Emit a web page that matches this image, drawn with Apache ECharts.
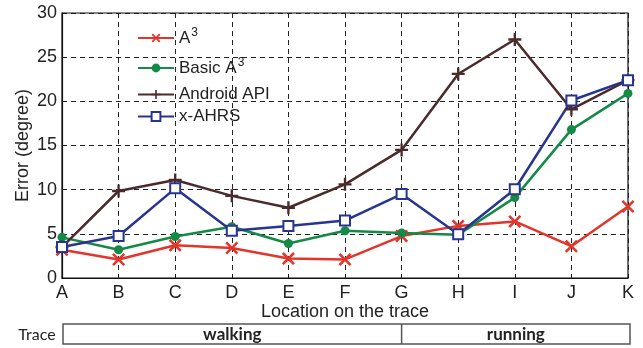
<!DOCTYPE html>
<html>
<head>
<meta charset="utf-8">
<script src="https://cdn.jsdelivr.net/npm/echarts@6/dist/echarts.min.js"></script>
<style>
  html, body { margin: 0; padding: 0; background: #fff; }
  #chart { width: 643px; height: 348px; }
</style>
</head>
<body>
<div id="chart"></div>
<script>
// Locations along the trace
const locations = ['A', 'B', 'C', 'D', 'E', 'F', 'G', 'H', 'I', 'J', 'K'];

// Orientation error (degree) per method
const errA3 = [3.2, 2.1, 3.7, 3.4, 2.2, 2.1, 4.75, 5.9, 6.4, 3.6, 8.1];
const errBasicA3 = [4.6, 3.2, 4.7, 5.8, 3.9, 5.35, 5.1, 4.9, 9.1, 16.8, 20.9];
const errAndroid = [3.5, 9.85, 11.1, 9.3, 7.95, 10.6, 14.5, 23.1, 27.0, 19.1, 22.4];
const errAHRS = [3.5, 4.75, 10.15, 5.35, 5.9, 6.5, 9.5, 4.95, 10.05, 20.1, 22.4];

// Y axis ticks
const yTicks = [0, 5, 10, 15, 20, 25, 30];

// Trace segments: label, first location, last location
const traceSegments = [
  { label: 'walking', from: 'A', to: 'G' },
  { label: 'running', from: 'G', to: 'K' }
];

const FONT = '"Liberation Sans", Arial, sans-serif';
const BAND_FONT = 'Lato, "Open Sans", sans-serif';
const CROSS = 'path://M0,1.4 L1.4,0 L5,3.6 L8.6,0 L10,1.4 L6.4,5 L10,8.6 L8.6,10 L5,6.4 L1.4,10 L0,8.6 L3.6,5 Z';
const PLUS = 'path://M4.1,0 H5.9 V4.1 H10 V5.9 H5.9 V10 H4.1 V5.9 H0 V4.1 H4.1 Z';

const seriesDefs = [
  { name: 'A3', data: errA3, color: '#e2352b', symbol: CROSS, size: 13 },
  { name: 'Basic A3', data: errBasicA3, color: '#138a45', symbol: 'circle', size: 9 },
  { name: 'Android API', data: errAndroid, color: '#4a2a2b', symbol: PLUS, size: 13 },
  { name: 'x-AHRS', data: errAHRS, color: '#283590', symbol: 'emptyRect', size: 10 }
];

// vertical offset of each legend row
const legendTops = [27, 57, 86, 108];

const rich = {
  t: { fontSize: 17, fontFamily: FONT, color: '#222' },
  s: { fontSize: 12, fontFamily: FONT, color: '#222', padding: [0, 0, 10, 1] }
};

function legendLabel(name) {
  const m = name.match(/^(.*)A3$/);
  if (m) return '{t|' + m[1] + 'A}{s|3}';
  return '{t|' + name + '}';
}

const chart = echarts.init(document.getElementById('chart'), null, { renderer: 'canvas' });

const option = {
  animation: false,
  backgroundColor: '#fff',
  grid: {
    left: 62, right: 15, top: 13, bottom: 70,
    show: true, borderColor: '#111', borderWidth: 1.2
  },
  legend: seriesDefs.map((s, i) => ({
    data: [s.name],
    left: 137,
    top: legendTops[i],
    padding: 0,
    itemWidth: 36,
    itemHeight: 11,
    formatter: legendLabel,
    textStyle: { rich: rich },
    selectedMode: false
  })),
  xAxis: {
    type: 'category',
    data: locations,
    boundaryGap: false,
    name: 'Location on the trace',
    nameLocation: 'middle',
    nameGap: 25,
    nameMoveOverlap: false,
    nameTextStyle: { fontSize: 18, fontFamily: FONT, color: '#222' },
    axisLine: { lineStyle: { color: '#111', width: 1.2 } },
    axisTick: { show: true, inside: true, length: 4, lineStyle: { color: '#111' } },
    axisLabel: { fontSize: 18, fontFamily: FONT, color: '#222', margin: 6 },
    splitLine: { show: true, lineStyle: { color: '#222', type: [5, 4], width: 1 } }
  },
  yAxis: {
    type: 'value',
    min: yTicks[0],
    max: yTicks[yTicks.length - 1],
    interval: yTicks[1] - yTicks[0],
    name: 'Error (degree)',
    nameLocation: 'middle',
    nameGap: 30,
    nameMoveOverlap: false,
    nameTextStyle: { fontSize: 18, fontFamily: FONT, color: '#222' },
    axisLine: { show: true, lineStyle: { color: '#111', width: 1.2 } },
    axisTick: { show: true, inside: true, length: 4, lineStyle: { color: '#111' } },
    axisLabel: { fontSize: 18, fontFamily: FONT, color: '#222', margin: 5 },
    splitLine: { show: true, lineStyle: { color: '#222', type: [5, 4], width: 1 } }
  },
  series: seriesDefs.map(s => ({
    name: s.name,
    type: 'line',
    data: s.data,
    symbol: s.symbol,
    symbolSize: s.size,
    showAllSymbol: true,
    lineStyle: { color: s.color, width: 2.5 },
    itemStyle: { color: s.color, borderColor: s.color, borderWidth: s.symbol === 'emptyRect' ? 2.2 : 0 },
    z: 3
  }))
};

chart.setOption(option);

// Trace band beneath the x axis, aligned to the category positions
function xOf(cat) {
  return chart.convertToPixel({ xAxisIndex: 0 }, cat);
}
const bandTop = 324, bandH = 20;
const x0 = xOf(locations[0]) + 1;
const x1 = xOf(locations[locations.length - 1]) + 2;
const graphics = [
  {
    type: 'text', x: 37, y: bandTop + bandH / 2 + 1,
    style: { text: 'Trace', fontSize: 16, fontFamily: BAND_FONT, fill: '#222', align: 'center', verticalAlign: 'middle' }
  },
  {
    type: 'rect', shape: { x: x0, y: bandTop, width: x1 - x0, height: bandH },
    style: { fill: 'none', stroke: '#555', lineWidth: 1.5 }
  }
];
traceSegments.forEach((seg, i) => {
  const a = i === 0 ? x0 : xOf(seg.from);
  const b = i === traceSegments.length - 1 ? x1 : xOf(seg.to);
  if (i > 0) {
    graphics.push({
      type: 'line', shape: { x1: a, y1: bandTop, x2: a, y2: bandTop + bandH },
      style: { stroke: '#555', lineWidth: 1.5 }
    });
  }
  graphics.push({
    type: 'text', x: (a + b) / 2, y: bandTop + bandH / 2 + 1,
    style: {
      text: seg.label, fontSize: 17, fontWeight: 'bold',
      fontFamily: BAND_FONT, fill: '#222',
      align: 'center', verticalAlign: 'middle'
    }
  });
});
chart.setOption({ graphic: graphics });
</script>
</body>
</html>
